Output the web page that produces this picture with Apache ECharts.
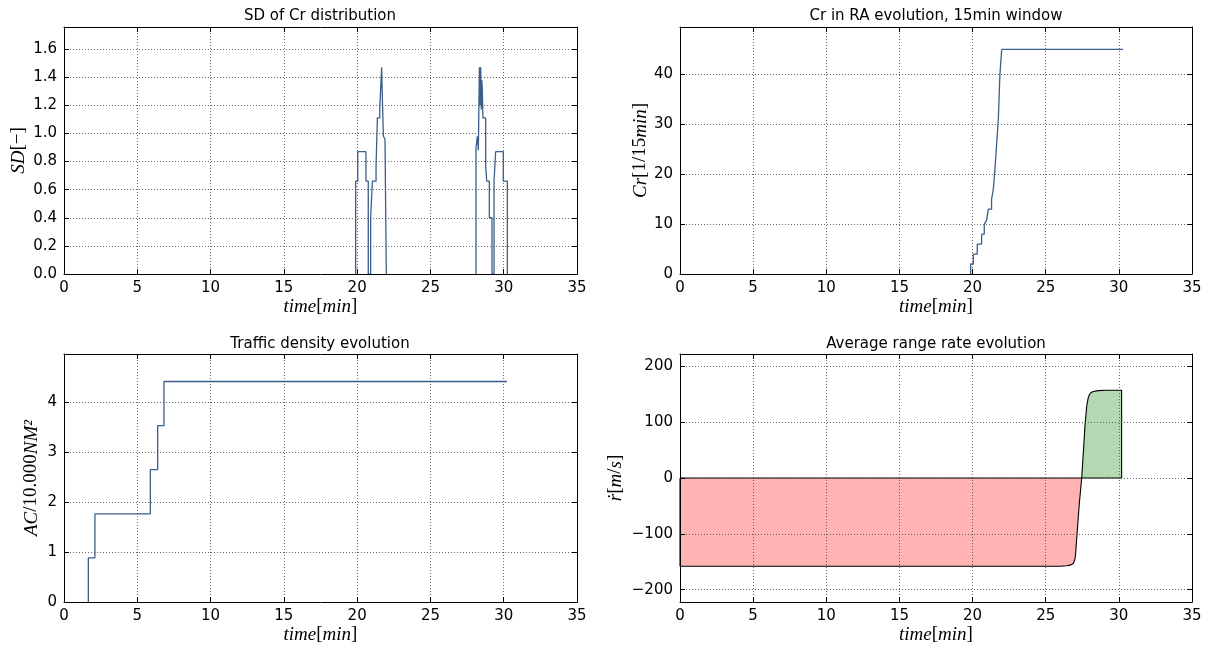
<!DOCTYPE html>
<html>
<head>
<meta charset="utf-8">
<script src="https://cdn.jsdelivr.net/npm/echarts@6/dist/echarts.min.js"></script>
<style>html,body{margin:0;padding:0;background:#fff}#c{width:1213px;height:648px}</style>
</head>
<body>
<div id="c"></div>
<script>
// ---- data ----
const xTicks = [0, 5, 10, 15, 20, 25, 30, 35];
const sdTicks = [0, 0.2, 0.4, 0.6, 0.8, 1.0, 1.2, 1.4, 1.6];
const crTicks = [0, 10, 20, 30, 40];
const densTicks = [0, 1, 2, 3, 4];
const rrTicks = [-200, -100, 0, 100, 200];

// SD of Cr distribution (value held until next time; null = SD stays 0, hidden on axis)
const sdTime  = [19.90, 19.90, 20.04, 20.60, 20.76, 20.92, 21.04, 21.29, 21.38, 21.54, 21.67, 21.74, 21.79, 21.90, 21.99,
                 null,
                 28.11, 28.11, 28.20, 28.27, 28.34, 28.40, 28.43, 28.47, 28.50, 28.54, 28.58, 28.77, 28.84, 29.02, 29.20, 29.34, 29.45, 29.97, 30.25];
const sdValue = [0, 0.66, 0.87, 0.66, 0, 0.40, 0.66, 0.77, 1.11, 1.17, 1.47, 1.17, 0.98, 0.96, 0,
                 null,
                 0, 0.90, 0.98, 0.88, 1.47, 1.20, 1.47, 1.17, 1.38, 1.32, 1.11, 0.77, 0.66, 0.40, 0, 0.66, 0.87, 0.66, 0];

// Cr in RA evolution (0 before 19.87 min, on the axis)
const crTime  = [19.87, 19.87, 20.05, 20.05, 20.32, 20.32, 20.62, 20.62, 20.80, 20.80, 20.96, 21.08, 21.08, 21.30, 21.30, 21.42, 21.42, 21.53, 21.53, 21.65, 21.76, 21.87, 21.99, 30.28];
const crValue = [0,     2,     2,     4,     4,     6,     6,     8,     8,     10,    10.8,  10.8,  13,    13,    15,    15,    17,    17,    21,    21,    31,    40,    45,    45];

// Traffic density evolution (value held until next time)
const densTime  = [1.66, 1.66, 2.11, 5.89, 6.39, 6.82, 30.22];
const densValue = [0, 0.882, 1.764, 2.646, 3.528, 4.41, 4.41];

// Average range rate evolution
const rrNegTime  = [0, 0, 25.98, 26.43, 26.66, 26.89, 27.00, 27.05, 27.10, 27.16, 27.30, 27.46];
const rrNegValue = [0, -158, -158, -157, -156, -153, -145, -134, -115, -93, -45, 0];
const rrPosTime  = [27.46, 27.57, 27.68, 27.80, 27.90, 27.98, 28.10, 28.25, 28.60, 29.17, 30.19, 30.19];
const rrPosValue = [0, 45, 92, 128, 143, 149, 153, 155, 156.5, 157, 157, 0];
const rrZeroTime = [0, 30.19];
const rrZeroValue = [0, 0];

const zip = (a, b) => a.map((v, i) => (v === null ? '-' : [v, b[i]]));

// ---- layout ----
const grids = [
  {left: 64, top: 27, width: 513, height: 247},
  {left: 680, top: 27, width: 512, height: 247},
  {left: 64, top: 354, width: 513, height: 248},
  {left: 680, top: 354, width: 512, height: 248}
].map(g => Object.assign({show: false}, g));

const FONT = 'DejaVu Sans';
const MATH = 'Liberation Serif';
const richMath = {
  i: {fontStyle: 'italic', fontFamily: MATH, fontSize: 19, color: '#000'},
  u: {fontFamily: MATH, fontSize: 19, color: '#000'}
};
const splitLine = {show: true, lineStyle: {color: '#444', width: 0.8, type: [1, 2]}};
const tick = {show: true, inside: true, length: 5, lineStyle: {color: '#000', width: 1}};
const axisLine = {show: true, onZero: false, lineStyle: {color: '#000', width: 1}};
const label = {color: '#000', fontSize: 15, fontFamily: FONT, margin: 7};
const minus = v => String(v).replace('-', '\u2212');

const xAxes = [], yAxes = [];
const xName = '{i|time}{u|[}{i|min}{u|]}';
for (let i = 0; i < 4; i++) {
  xAxes.push({type: 'value', gridIndex: i, min: 0, max: 35, interval: 5, position: 'bottom', z: 5,
    axisLine: axisLine, axisTick: tick, axisLabel: label, splitLine: splitLine,
    name: xName, nameLocation: 'middle', nameGap: 23, nameTextStyle: {rich: richMath}});
}
for (let i = 0; i < 4; i++) {
  xAxes.push({type: 'value', gridIndex: i, min: 0, max: 35, interval: 5, position: 'top', z: 5,
    axisLine: axisLine, axisTick: tick, axisLabel: {show: false}, splitLine: {show: false}});
}
const yDefs = [
  {min: 0, max: 1.757, ticks: sdTicks, fmt: v => v.toFixed(1), name: '{i|SD}{u|[\u2212]}', gap: 36},
  {min: 0, max: 49.5, ticks: crTicks, fmt: v => String(v), name: '{i|Cr}{u|[1/15}{i|min}{u|]}', gap: 30},
  {min: 0, max: 4.96, ticks: densTicks, fmt: v => String(v), name: '{i|AC}{u|/10.000}{i|NM\u00B2}', gap: 23},
  {min: -222, max: 222, ticks: rrTicks, fmt: minus, name: '{i|\u1E59}{u|[}{i|m}{u|/}{i|s}{u|]}', gap: 55}
];
yDefs.forEach((d, i) => {
  yAxes.push({type: 'value', gridIndex: i, min: d.min, max: d.max, position: 'left', z: 5,
    axisLine: axisLine,
    axisTick: Object.assign({customValues: d.ticks}, tick),
    axisLabel: Object.assign({customValues: d.ticks, formatter: d.fmt}, label),
    splitLine: splitLine,
    name: d.name, nameLocation: 'middle', nameRotate: 90, nameGap: d.gap, nameTextStyle: {rich: richMath}});
});
yDefs.forEach((d, i) => {
  yAxes.push({type: 'value', gridIndex: i, min: d.min, max: d.max, position: 'right', z: 5,
    axisLine: axisLine,
    axisTick: Object.assign({customValues: d.ticks}, tick),
    axisLabel: {show: false}, splitLine: {show: false}});
});

const titles = [
  {text: 'SD of Cr distribution', left: 320, top: 9},
  {text: 'Cr in RA evolution, 15min window', left: 936, top: 9},
  {text: 'Traffic density evolution', left: 320, top: 337},
  {text: 'Average range rate evolution', left: 936, top: 337}
].map(t => Object.assign({textAlign: 'center', padding: 0,
  textStyle: {fontFamily: FONT, fontSize: 15, fontWeight: 'normal', color: '#000'}}, t));

const blue = '#3a5f8b';
const series = [
  {type: 'line', xAxisIndex: 0, yAxisIndex: 0, step: 'end', data: zip(sdTime, sdValue), showSymbol: false,
    connectNulls: false, lineStyle: {color: blue, width: 1.3}},
  {type: 'line', xAxisIndex: 1, yAxisIndex: 1, data: zip(crTime, crValue), showSymbol: false,
    lineStyle: {color: blue, width: 1.3}},
  {type: 'line', xAxisIndex: 2, yAxisIndex: 2, step: 'end', data: zip(densTime, densValue), showSymbol: false,
    lineStyle: {color: blue, width: 1.3}},
  {type: 'line', xAxisIndex: 3, yAxisIndex: 3, data: zip(rrNegTime, rrNegValue), showSymbol: false,
    lineStyle: {color: '#000', width: 1.1}, areaStyle: {color: '#ffb3b3', opacity: 1, origin: 0}},
  {type: 'line', xAxisIndex: 3, yAxisIndex: 3, data: zip(rrPosTime, rrPosValue), showSymbol: false,
    lineStyle: {color: '#000', width: 1.1}, areaStyle: {color: '#b3d9b3', opacity: 1, origin: 0}},
  {type: 'line', xAxisIndex: 3, yAxisIndex: 3, data: zip(rrZeroTime, rrZeroValue), showSymbol: false,
    lineStyle: {color: '#000', width: 1.1}}
];

const chart = echarts.init(document.getElementById('c'), null, {renderer: 'canvas'});
chart.setOption({
  animation: false,
  backgroundColor: '#fff',
  title: titles,
  grid: grids,
  xAxis: xAxes,
  yAxis: yAxes,
  series: series
});
</script>
</body>
</html>
